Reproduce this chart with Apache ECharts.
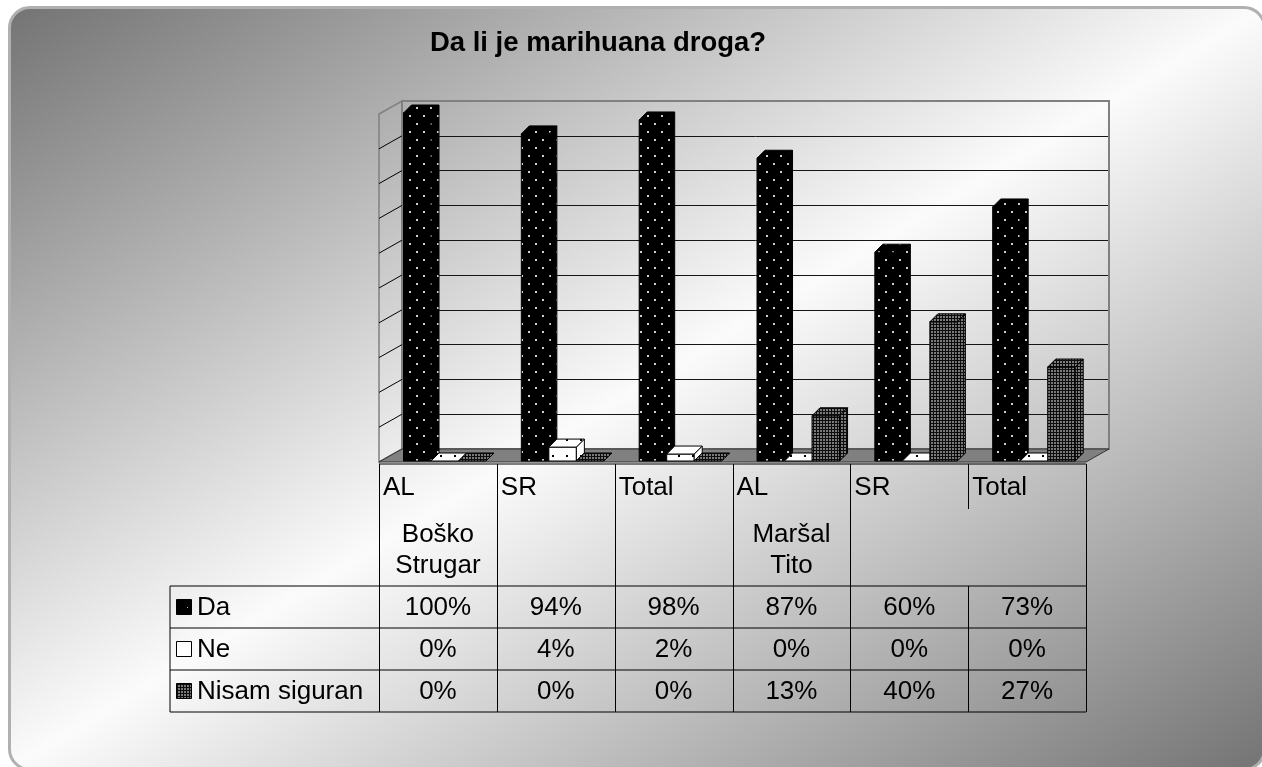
<!DOCTYPE html>
<html><head><meta charset="utf-8">
<script src="https://cdn.jsdelivr.net/npm/echarts/dist/echarts.min.js"></script>
<style>
html,body{margin:0;padding:0;background:#fff;width:1262px;height:767px;overflow:hidden;}
#bg{position:absolute;left:8px;top:6px;width:1258px;height:765px;border-radius:22px;border:3px solid #b0b0b0;box-sizing:border-box;
background:linear-gradient(to bottom right,#747474 0%,#fbfbfb 50%,#747474 100%);}
#chart{position:absolute;left:0;top:0;width:1262px;height:767px;}
</style></head><body><div id="bg"></div><div id="chart"></div>
<script>
// ---- data ----
const titleText = 'Da li je marihuana droga?';
const categories = ['AL', 'SR', 'Total', 'AL', 'SR', 'Total'];
const schools = ['Boško\nStrugar', '', '', 'Maršal\nTito', '', ''];
const seriesNames = ['Da', 'Ne', 'Nisam siguran'];
const da = [100, 94, 98, 87, 60, 73];
const ne = [0, 4, 2, 0, 0, 0];
const nisam = [0, 0, 0, 13, 40, 27];
const yTicks = [0, 10, 20, 30, 40, 50, 60, 70, 80, 90, 100];
const seriesData = [da, ne, nisam];

// ---- layout ----
const L = 379, R = 1086, B = 462, H = 348, DX = 23, DY = 13;
const BDX = 8, BDY = 8;
const FONT = '"Liberation Sans", Arial, sans-serif';

function makePattern(w, h, bg, fg, dots) {
  const c = document.createElement('canvas');
  c.width = w; c.height = h;
  const ctx = c.getContext('2d');
  ctx.fillStyle = bg; ctx.fillRect(0, 0, w, h);
  ctx.fillStyle = fg;
  dots.forEach(d => ctx.fillRect(d[0], d[1], d[2], d[3]));
  return c;
}
const patCanvases = [
  makePattern(14, 16, '#000', '#d0d0d0', [[3, 3, 2, 2], [10, 11, 2, 2]]),
  makePattern(14, 16, '#fff', '#000', [[6, 7, 2, 2]]),
  makePattern(3, 3, '#0d0d0d', '#7a7a7a', [[1, 1, 2, 2]])
];
const keyCanvases = [
  makePattern(15, 15, '#000', '#bbb', [[7, 7, 1, 1]]),
  makePattern(15, 15, '#fff', '#fff', []),
  patCanvases[2]
];
function pat(i) { return { image: patCanvases[i], repeat: 'repeat' }; }

function renderBar(params, api) {
  const si = params.seriesIndex;
  const i = api.value(0), v = api.value(1);
  const base = api.coord([i, 0]), top = api.coord([i, v]);
  const bw = api.size([1, 0])[0];
  const w = bw * 0.2335;
  const x0 = base[0] - bw / 2 + bw * 0.208 + si * w;
  const x1 = x0 + w;
  const yb = base[1] - 1, yt = top[1] - 1;
  const st = () => ({ fill: pat(si), stroke: '#000', lineWidth: 1 });
  const children = [];
  if (yb - yt > 0.5) children.push({ type: 'rect', shape: { x: x0, y: yt, width: w, height: yb - yt }, style: st() });
  if (yb - yt > 0.5) children.push({ type: 'polygon', shape: { points: [[x1, yt], [x1 + BDX, yt - BDY], [x1 + BDX, yb - BDY], [x1, yb]] }, style: st() });
  children.push({ type: 'polygon', shape: { points: [[x0, yt], [x0 + BDX, yt - BDY], [x1 + BDX, yt - BDY], [x1, yt]] }, style: st() });
  return { type: 'group', children };
}

const chart = echarts.init(document.getElementById('chart'));
chart.setOption({
  animation: false,
  backgroundColor: 'transparent',
  grid: [
    { left: L, top: B - H, width: R - L, height: H },
    { left: L + DX, top: B - H - DY, width: R - L, height: H }
  ],
  xAxis: [
    { type: 'category', gridIndex: 0, data: categories, show: false },
    { type: 'category', gridIndex: 1, data: categories, show: false }
  ],
  yAxis: [
    { type: 'value', gridIndex: 0, min: 0, max: 100, interval: 10, show: false },
    { type: 'value', gridIndex: 1, min: 0, max: 100, interval: 10,
      axisLine: { show: false }, axisTick: { show: false }, axisLabel: { show: false },
      splitLine: { show: true, lineStyle: { color: '#151515', width: 1 } } }
  ],
  series: seriesNames.map((name, si) => ({
    name, type: 'custom', xAxisIndex: 0, yAxisIndex: 0, z: 2, clip: false,
    renderItem: renderBar,
    data: seriesData[si].map((v, i) => [i, v]),
    encode: { x: 0, y: 1 }
  }))
});

// ---- decorations & data table built from the axes ----
const yPix = v => chart.convertToPixel({ yAxisIndex: 0 }, v);
const xPix = i => chart.convertToPixel({ xAxisIndex: 0 }, i);
const band = xPix(1) - xPix(0);
const g = [];
g.push({ type: 'text', z: 10, style: { x: 598, y: 43, text: titleText, font: 'bold 27.5px ' + FONT, fill: '#000', align: 'center', verticalAlign: 'middle' } });
// back wall border
g.push({ type: 'rect', z: 1, shape: { x: L + DX, y: yPix(100) - DY, width: R - L, height: H }, style: { fill: 'none', stroke: '#808080', lineWidth: 2 } });
// left wall
g.push({ type: 'polygon', z: 1, shape: { points: [[L, yPix(0)], [L, yPix(100)], [L + DX, yPix(100) - DY], [L + DX, yPix(0) - DY]] }, style: { fill: 'none', stroke: '#808080', lineWidth: 1.5 } });
yTicks.slice(1, -1).forEach(v => {
  g.push({ type: 'line', z: 1, shape: { x1: L, y1: yPix(v), x2: L + DX, y2: yPix(v) - DY }, style: { stroke: '#000', lineWidth: 1 } });
});
// floor
g.push({ type: 'polygon', z: 1, shape: { points: [[L, yPix(0)], [L + DX, yPix(0) - DY], [R + DX, yPix(0) - DY], [R, yPix(0)]] }, style: { fill: '#808080', stroke: '#333', lineWidth: 1 } });

// table
const T0 = 464, T1 = 586, rowH = 42;
const rows = [T1, T1 + rowH, T1 + 2 * rowH, T1 + 3 * rowH];
const TL = 170;
const line = (x1, y1, x2, y2) => g.push({ type: 'line', z: 5, shape: { x1, y1, x2, y2 }, style: { stroke: '#000', lineWidth: 1 } });
line(L, T0, R, T0);
rows.forEach(y => line(TL, y, R, y));
line(TL, T1, TL, rows[3]);
for (let k = 0; k <= categories.length; k++) {
  const x = Math.round(xPix(0) - band / 2 + k * band) + 0.5;
  if (k === 5) { line(x, T0, x, 509); line(x, T1, x, rows[3]); }
  else line(x, T0, x, rows[3]);
}
const tfont = '26px ' + FONT;
categories.forEach((c, i) => {
  const cx = xPix(i);
  g.push({ type: 'text', z: 6, style: { x: cx - band / 2 + 4, y: 488, text: c, font: tfont, fill: '#000', align: 'left', verticalAlign: 'middle' } });
  if (schools[i]) g.push({ type: 'text', z: 6, style: { x: cx, y: 550, text: schools[i], font: tfont, lineHeight: 31, fill: '#000', align: 'center', verticalAlign: 'middle' } });
});
seriesNames.forEach((name, si) => {
  const cy = rows[si] + rowH / 2;
  g.push({ type: 'rect', z: 6, shape: { x: 176.5, y: cy - 7.5, width: 15, height: 15 }, style: { fill: { image: keyCanvases[si], repeat: 'repeat' }, stroke: '#000', lineWidth: 1 } });
  g.push({ type: 'text', z: 6, style: { x: 197, y: cy + 1, text: name, font: tfont, fill: '#000', align: 'left', verticalAlign: 'middle' } });
  seriesData[si].forEach((v, i) => {
    g.push({ type: 'text', z: 6, style: { x: xPix(i), y: cy + 1, text: v + '%', font: tfont, fill: '#000', align: 'center', verticalAlign: 'middle' } });
  });
});
chart.setOption({ graphic: { elements: g } });
</script>
</body></html>
